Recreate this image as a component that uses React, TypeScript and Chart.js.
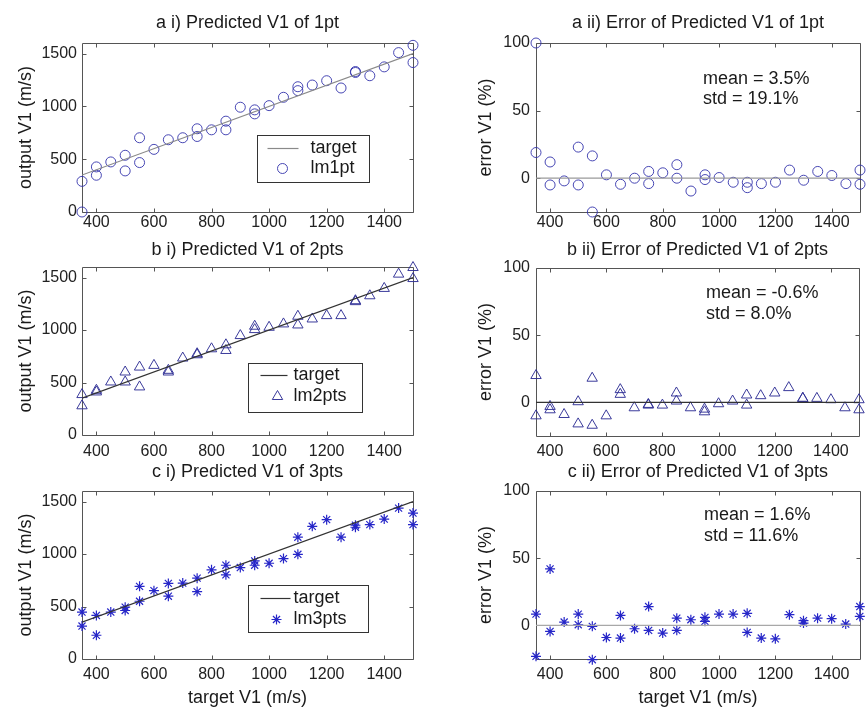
import React, { useEffect, useRef } from 'react';
import { Chart, registerables } from 'chart.js';
import { drawPoint } from 'chart.js/helpers';

Chart.register(...registerables);

const FONT = '"Liberation Sans", Arial, Helvetica, sans-serif';

// ---------- data ----------
const targetRange = [350, 1500];
const zeroLine = [0, 0];
const xTicks = [400, 600, 800, 1000, 1200, 1400];
const outTicks = [0, 500, 1000, 1500];
const errTicks = [0, 50, 100];

const targetA_out = [350, 350, 400, 400, 450, 500, 500, 550, 550, 600, 650, 700, 750, 750, 800, 850, 850, 900, 950, 950, 1000, 1050, 1100, 1100, 1150, 1200, 1250, 1300, 1300, 1350, 1400, 1450, 1500, 1500];
const lm1ptOut = [290, 0, 427, 348, 474, 537, 389, 703, 468, 593, 684, 703, 788, 715, 778, 860, 778, 992, 967, 929, 1007, 1086, 1186, 1149, 1202, 1243, 1174, 1330, 1321, 1290, 1374, 1509, 1578, 1415];

const targetA_err = [350, 350, 400, 400, 450, 500, 500, 550, 550, 600, 650, 700, 750, 750, 800, 850, 850, 900, 950, 950, 1000, 1050, 1100, 1100, 1150, 1200, 1250, 1300, 1350, 1400, 1450, 1500, 1500];
const lm1ptErr = [100, 19, 12, -5, -2, 23, -5, 16.5, -25, 2.5, -4.5, 0, 5, -4, 4, 10, 0, -9.5, 2.5, -1, 0.5, -3, -3, -7, -4, -3, 6, -1.5, 5, 2, -4, 6, -4.5];

const targetBC = [350, 350, 400, 400, 450, 500, 500, 550, 550, 600, 650, 650, 700, 750, 750, 800, 850, 850, 900, 950, 950, 1000, 1050, 1100, 1100, 1150, 1200, 1250, 1300, 1300, 1350, 1400, 1450, 1500, 1500];
const lm2ptsOut = [385, 278, 426, 410, 505, 600, 505, 647, 458, 663, 616, 600, 733, 774, 764, 821, 859, 805, 947, 1036, 1004, 1026, 1058, 1131, 1048, 1105, 1137, 1137, 1279, 1270, 1326, 1396, 1532, 1595, 1490];
const lm2ptsErr = [20, -10, -3, -5.5, -9, 0.5, -16, 18, -17, -10, 9.5, 6, -4, -1.5, -2, -2, 7, 1, -4, -5, -7, -1, 1, 5.5, -2, 5, 7, 11, 3, 3, 3, 2, -4, 2, -5.5];
const lm3ptsOut = [447, 314, 415, 226, 447, 494, 462, 692, 550, 651, 720, 598, 723, 770, 642, 849, 893, 802, 871, 934, 893, 912, 956, 1160, 997, 1264, 1327, 1160, 1274, 1255, 1280, 1333, 1437, 1390, 1280];
const lm3ptsErr = [8.4, -23, 42, -4.5, 2.5, 8.4, 0.5, -0.7, -25.5, -9, 7.4, -9.4, -2.5, 14, -3.7, -5.7, 5.4, -3.7, 4.2, 6, 3, 8.4, 8.4, 9, -5.2, -9.4, -10, 8, 3.5, 1.7, 5.4, 5, 1, 14, 6.7];

const statsA = ['mean = 3.5%', 'std = 19.1%'];
const statsB = ['mean = -0.6%', 'std = 8.0%'];
const statsC = ['mean = 1.6%', 'std = 11.6%'];

// ---------- styling / layout ----------
type Series = { label: string; xs: number[]; ys: number[]; style: string; radius: number; color: string; width: number };
type Spec = {
  left: number; top: number; w: number; h: number;
  padTop: number; padRight: number; yAxisW: number; xAxisH: number; xTickPad: number; yTickPad: number; yTitlePad: number;
  title: string; titleOffset: number; yTitle: string; xTitle?: string;
  kind: 'out' | 'err'; series: Series; lineColor: string;
  legend?: { x: number; y: number; w: number; h: number; rows: number[]; lineX1: number; lineX2: number; markX: number; textX: number };
  stats?: { x: number; y: number[]; lines: string[] };
};

const circle = { style: 'circle', radius: 5, color: 'rgba(52,52,172,0.9)', width: 1 };
const tri = { style: 'triangle', radius: 6, color: 'rgba(48,48,150,0.95)', width: 1 };
const star = { style: 'star', radius: 5, color: '#2626c8', width: 1.2 };

const L = { left: 0, w: 433, padRight: 20, yAxisW: 82, yTickPad: 5, yTitlePad: 15 };
const R = { left: 430, w: 436, padRight: 1, yAxisW: 106, yTickPad: 6, yTitlePad: 45 };

const specs: Spec[] = [
  {
    ...L, top: 0, h: 240, padTop: 43, xAxisH: 28, xTickPad: 1, title: 'a i) Predicted V1 of 1pt', titleOffset: 20,
    yTitle: 'output V1 (m/s)', kind: 'out', lineColor: '#8a8a8a',
    series: { label: 'lm1pt', xs: targetA_out, ys: lm1ptOut, ...circle },
    legend: { x: 175, y: 92, w: 112, h: 47, rows: [13, 33], lineX1: 10, lineX2: 41, markX: 25, textX: 53 },
  },
  {
    ...R, top: 0, h: 240, padTop: 43, xAxisH: 28, xTickPad: 1, title: 'a ii) Error of Predicted V1 of 1pt', titleOffset: 20,
    yTitle: 'error V1 (%)', kind: 'err', lineColor: '#9a9a9a',
    series: { label: 'lm1pt', xs: targetA_err, ys: lm1ptErr, ...circle },
    stats: { x: 167, y: [36, 56], lines: statsA },
  },
  {
    ...L, top: 240, h: 222, padTop: 27, xAxisH: 27, xTickPad: 7, title: 'b i) Predicted V1 of 2pts', titleOffset: 17,
    yTitle: 'output V1 (m/s)', kind: 'out', lineColor: '#333333',
    series: { label: 'lm2pts', xs: targetBC, ys: lm2ptsOut, ...tri },
    legend: { x: 166, y: 96, w: 114, h: 49, rows: [12, 33], lineX1: 12, lineX2: 39, markX: 29, textX: 45 },
  },
  {
    ...R, top: 240, h: 222, padTop: 28, xAxisH: 26, xTickPad: 6, title: 'b ii) Error of Predicted V1 of 2pts', titleOffset: 18,
    yTitle: 'error V1 (%)', kind: 'err', lineColor: '#333333',
    series: { label: 'lm2pts', xs: targetBC, ys: lm2ptsErr, ...tri },
    stats: { x: 170, y: [25, 46], lines: statsB },
  },
  {
    ...L, top: 462, h: 247, padTop: 29, xAxisH: 50, xTickPad: 6, title: 'c i) Predicted V1 of 3pts', titleOffset: 19,
    yTitle: 'output V1 (m/s)', xTitle: 'target V1 (m/s)', kind: 'out', lineColor: '#333333',
    series: { label: 'lm3pts', xs: targetBC, ys: lm3ptsOut, ...star },
    legend: { x: 166, y: 94, w: 120, h: 47, rows: [13, 34], lineX1: 12, lineX2: 42, markX: 28, textX: 45 },
  },
  {
    ...R, top: 462, h: 247, padTop: 29, xAxisH: 50, xTickPad: 6, title: 'c ii) Error of Predicted V1 of 3pts', titleOffset: 19,
    yTitle: 'error V1 (%)', xTitle: 'target V1 (m/s)', kind: 'err', lineColor: '#a8a8a8',
    series: { label: 'lm3pts', xs: targetBC, ys: lm3ptsErr, ...star },
    stats: { x: 168, y: [24, 45], lines: statsC },
  },
];

// ---------- plugin: frame, inward ticks, title, legend, stats ----------
const panelPlugin = {
  id: 'panel',
  beforeDatasetsDraw(chart: any) {
    const { ctx, chartArea: a, scales } = chart;
    ctx.save();
    ctx.strokeStyle = '#555';
    ctx.lineWidth = 1;
    const l = Math.round(a.left) + 0.5, t = Math.round(a.top) + 0.5;
    const r = Math.round(a.right) + 0.5, b = Math.round(a.bottom) + 0.5;
    ctx.beginPath();
    ctx.rect(l, t, r - l, b - t);
    const tl = 4;
    scales.x.ticks.forEach((tk: any) => {
      const px = Math.round(scales.x.getPixelForValue(tk.value)) + 0.5;
      ctx.moveTo(px, b); ctx.lineTo(px, b - tl);
      ctx.moveTo(px, t); ctx.lineTo(px, t + tl);
    });
    scales.y.ticks.forEach((tk: any) => {
      const py = Math.round(scales.y.getPixelForValue(tk.value)) + 0.5;
      ctx.moveTo(l, py); ctx.lineTo(l + tl, py);
      ctx.moveTo(r, py); ctx.lineTo(r - tl, py);
    });
    ctx.stroke();
    ctx.restore();
  },
  afterDraw(chart: any, _a: any, opts: any) {
    const { ctx, chartArea: a } = chart;
    ctx.save();
    ctx.fillStyle = '#1a1a1a';
    ctx.font = `18px ${FONT}`;
    ctx.textAlign = 'center';
    ctx.textBaseline = 'middle';
    ctx.fillText(opts.title, (a.left + a.right) / 2, a.top - opts.titleOffset);

    if (opts.legend) {
      const lg = opts.legend;
      const bx = Math.round(a.left + lg.x) + 0.5, by = Math.round(a.top + lg.y) + 0.5;
      ctx.fillStyle = '#fff';
      ctx.fillRect(bx, by, lg.w, lg.h);
      ctx.strokeStyle = '#333';
      ctx.lineWidth = 1;
      ctx.strokeRect(bx, by, lg.w, lg.h);
      chart.data.datasets.forEach((ds: any, i: number) => {
        const cy = by + lg.rows[i];
        if (ds.showLine) {
          ctx.strokeStyle = ds.borderColor;
          ctx.lineWidth = ds.borderWidth;
          ctx.beginPath();
          ctx.moveTo(bx + lg.lineX1, cy);
          ctx.lineTo(bx + lg.lineX2, cy);
          ctx.stroke();
        } else {
          ctx.strokeStyle = ds.pointBorderColor;
          ctx.fillStyle = 'rgba(0,0,0,0)';
          ctx.lineWidth = ds.pointBorderWidth;
          drawPoint(ctx, { pointStyle: ds.pointStyle, radius: ds.pointRadius, borderWidth: ds.pointBorderWidth, rotation: 0 } as any, bx + lg.markX, cy);
        }
        ctx.fillStyle = '#1a1a1a';
        ctx.font = `18px ${FONT}`;
        ctx.textAlign = 'left';
        ctx.textBaseline = 'middle';
        ctx.fillText(ds.label, bx + lg.textX, cy);
      });
    }
    if (opts.stats) {
      const st = opts.stats;
      ctx.fillStyle = '#1a1a1a';
      ctx.font = `18px ${FONT}`;
      ctx.textAlign = 'left';
      ctx.textBaseline = 'middle';
      st.lines.forEach((s: string, i: number) => ctx.fillText(s, a.left + st.x, a.top + st.y[i]));
    }
    ctx.restore();
  },
};

function buildConfig(spec: Spec): any {
  const isOut = spec.kind === 'out';
  const refY = isOut ? targetRange : zeroLine;
  const s = spec.series;
  return {
    type: 'scatter',
    data: {
      datasets: [
        {
          label: 'target',
          data: targetRange.map((x, i) => ({ x, y: refY[i] })),
          showLine: true,
          borderColor: spec.lineColor,
          borderWidth: 1.2,
          pointRadius: 0,
          fill: false,
        },
        {
          label: s.label,
          data: s.xs.map((x, i) => ({ x, y: s.ys[i] })),
          pointStyle: s.style,
          pointRadius: s.radius,
          pointBorderColor: s.color,
          pointBackgroundColor: 'rgba(0,0,0,0)',
          pointBorderWidth: s.width,
          clip: false,
        },
      ],
    },
    options: {
      animation: false,
      responsive: false,
      events: [],
      layout: { padding: { top: spec.padTop, right: spec.padRight, left: 0, bottom: 0 } },
      plugins: {
        legend: { display: false },
        tooltip: { enabled: false },
        title: { display: false },
        panel: { title: spec.title, titleOffset: spec.titleOffset, legend: spec.legend, stats: spec.stats },
      },
      scales: {
        x: {
          type: 'linear',
          min: targetRange[0],
          max: targetRange[1],
          grid: { display: false, drawTicks: false },
          border: { display: false },
          ticks: { font: { family: FONT, size: 16 }, color: '#222', padding: spec.xTickPad, autoSkip: false, maxRotation: 0, callback: (v: any) => String(v) },
          afterBuildTicks: (sc: any) => { sc.ticks = xTicks.map((v) => ({ value: v })); },
          afterFit: (sc: any) => { sc.height = spec.xAxisH; },
          title: spec.xTitle
            ? { display: true, text: spec.xTitle, font: { family: FONT, size: 18 }, color: '#1a1a1a', padding: { top: 0, bottom: 0 } }
            : { display: false },
        },
        y: {
          type: 'linear',
          min: isOut ? 0 : -25,
          max: isOut ? 1600 : 100,
          grid: { display: false, drawTicks: false },
          border: { display: false },
          ticks: { font: { family: FONT, size: 16 }, color: '#222', padding: spec.yTickPad, autoSkip: false, callback: (v: any) => String(v) },
          afterBuildTicks: (sc: any) => { sc.ticks = (isOut ? outTicks : errTicks).map((v) => ({ value: v })); },
          afterFit: (sc: any) => { sc.width = spec.yAxisW; },
          title: { display: true, text: spec.yTitle, font: { family: FONT, size: 18 }, color: '#1a1a1a', padding: { top: spec.yTitlePad, bottom: 0 } },
        },
      },
    },
    plugins: [panelPlugin],
  };
}

function Panel({ spec }: { spec: Spec }) {
  const ref = useRef<HTMLCanvasElement>(null);
  useEffect(() => {
    const chart = new Chart(ref.current as HTMLCanvasElement, buildConfig(spec));
    return () => chart.destroy();
  }, [spec]);
  return (
    <canvas
      ref={ref}
      width={spec.w}
      height={spec.h}
      style={{ position: 'absolute', left: spec.left, top: spec.top, width: spec.w, height: spec.h }}
    />
  );
}

export default function App() {
  return (
    <div style={{ position: 'absolute', left: 0, top: 0, width: 866, height: 709, background: '#fff', overflow: 'hidden' }}>
      {specs.map((s, i) => (
        <Panel key={i} spec={s} />
      ))}
    </div>
  );
}
